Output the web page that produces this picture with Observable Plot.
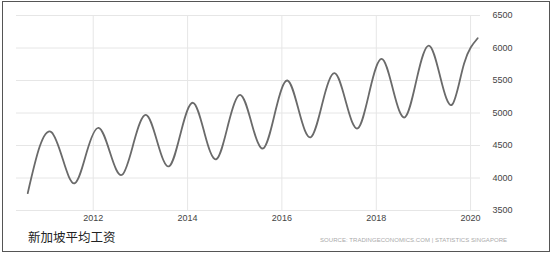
<!DOCTYPE html>
<html>
<head>
<meta charset="utf-8">
<script src="https://cdn.jsdelivr.net/npm/d3@7"></script>
<script src="https://cdn.jsdelivr.net/npm/@observablehq/plot@0.6"></script>
<style>
  html, body { margin: 0; padding: 0; background: #fff; }
  #wrap { position: relative; width: 554px; height: 256px; overflow: hidden; }
  #frame { position: absolute; left: 2px; top: 1px; width: 546px; height: 249px; border: 1.5px solid #555; box-sizing: content-box; }
  #chart { position: absolute; left: 0; top: 0; }
  #title { position: absolute; left: 28px; top: 229px; font-family: "Noto Sans CJK SC", sans-serif; font-size: 12.5px; color: #222; line-height: 16px; }
  #source { position: absolute; left: 320px; top: 236px; font-family: "Liberation Sans", Arial, sans-serif; font-size: 6px; color: #aaa; letter-spacing: 0.05px; white-space: nowrap; line-height: 8px; }
</style>
</head>
<body>
<div id="wrap">
  <div id="chart"></div>
  <div id="frame"></div>
  <div id="title"></div>
  <div id="source"></div>
</div>
<script>
// Quarterly dates (mid-quarter) and average monthly wages (SGD)
const dates = [
  "2010-08-12","2010-11-12",
  "2011-02-12","2011-05-12","2011-08-12","2011-11-12",
  "2012-02-12","2012-05-12","2012-08-12","2012-11-12",
  "2013-02-12","2013-05-12","2013-08-12","2013-11-12",
  "2014-02-12","2014-05-12","2014-08-12","2014-11-12",
  "2015-02-12","2015-05-12","2015-08-12","2015-11-12",
  "2016-02-12","2016-05-12","2016-08-12","2016-11-12",
  "2017-02-12","2017-05-12","2017-08-12","2017-11-12",
  "2018-02-12","2018-05-12","2018-08-12","2018-11-12",
  "2019-02-12","2019-05-12","2019-08-12","2019-11-12",
  "2020-02-25"
];
const wages = [
  3766, 4480,
  4705, 4280, 3920, 4400,
  4772, 4380, 4049, 4560,
  4972, 4550, 4182, 4720,
  5157, 4690, 4290, 4830,
  5280, 4840, 4459, 5030,
  5500, 5030, 4628, 5170,
  5612, 5160, 4766, 5350,
  5833, 5350, 4936, 5540,
  6038, 5550, 5131, 5762,
  6150
];
const yTicks = [3500, 4000, 4500, 5000, 5500, 6000, 6500];
const xTickYears = [2012, 2014, 2016, 2018, 2020];
const xDomain = ["2010-05-17", "2020-03-18"];
const titleText = "新加坡平均工资";
const sourceText = "SOURCE:  TRADINGECONOMICS.COM  |  STATISTICS SINGAPORE";

const data = dates.map((d, i) => ({date: new Date(d), value: wages[i]}));
const xTicks = xTickYears.map(y => new Date(Date.UTC(y, 0, 1)));

const chart = Plot.plot({
  width: 554,
  height: 226,
  marginTop: 15,
  marginBottom: 16,
  marginLeft: 16,
  marginRight: 74,
  style: {fontFamily: "'Liberation Sans', Arial, sans-serif", fontSize: "9px", color: "#444", background: "transparent"},
  x: {type: "utc", domain: xDomain.map(d => new Date(d))},
  y: {domain: [3500, 6500]},
  marks: [
    Plot.gridY(yTicks, {stroke: "#e6e6e6", strokeOpacity: 1}),
    Plot.gridX(xTicks, {stroke: "#e6e6e6", strokeOpacity: 1}),
    Plot.line(data, {x: "date", y: "value", curve: "natural", stroke: "#6a6a6a", strokeWidth: 1.8}),
    Plot.axisX(xTicks, {tickSize: 0, tickPadding: 4, tickFormat: d3.utcFormat("%Y"), label: null}),
    Plot.axisY(yTicks, {anchor: "right", tickSize: 0, tickPadding: 12, tickFormat: d3.format("d"), label: null})
  ]
});
document.getElementById("chart").appendChild(chart);
document.getElementById("title").textContent = titleText;
document.getElementById("source").textContent = sourceText;
</script>
</body>
</html>
